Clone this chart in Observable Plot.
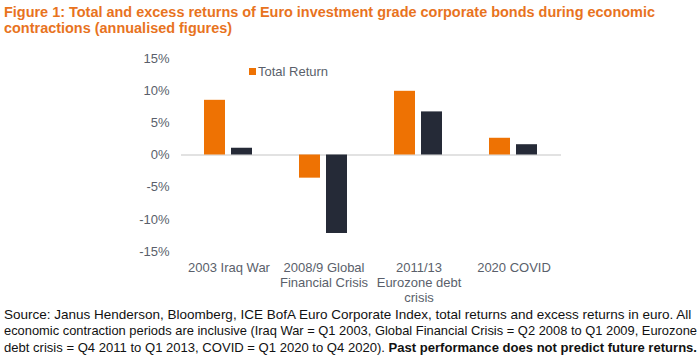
<!DOCTYPE html>
<html>
<head>
<meta charset="utf-8">
<script src="https://cdn.jsdelivr.net/npm/d3@7"></script>
<script src="https://cdn.jsdelivr.net/npm/@observablehq/plot@0.6"></script>
<style>
  body { margin: 0; background: #fff; }
  #wrap { position: relative; width: 700px; height: 361px; overflow: hidden; background: #fff; }
  #title { position: absolute; left: 4px; top: 4px; font: bold 14.5px "Liberation Sans", Arial, sans-serif; color: #E8731E; line-height: 16px; }
  #chart { position: absolute; left: 0; top: 0; }
  #legend { position: absolute; left: 249px; top: 64px; font: 13px "Liberation Sans", Arial, sans-serif; color: #5a5f6b; display: flex; align-items: center; }
  #legend .sw { width: 7px; height: 7px; margin-right: 2px; }
  #caption { position: absolute; left: 4px; top: 307px; font: 13.5px "Liberation Sans", Arial, sans-serif; color: #111; line-height: 16.3px; }
  .ln { display: block; white-space: nowrap; }
  .ln span { display: inline-block; transform-origin: 0 50%; }
</style>
</head>
<body>
<div id="wrap">
  <div id="title">
    <div class="ln"><span data-w="651">Figure 1: Total and excess returns of Euro investment grade corporate bonds during economic</span></div>
    <div class="ln"><span data-ref="0">contractions (annualised figures)</span></div>
  </div>
  <div id="chart"></div>
  <div id="legend"></div>
  <div id="caption">
    <div class="ln"><span data-w="693">Source: Janus Henderson, Bloomberg, ICE BofA Euro Corporate Index, total returns and excess returns in euro. All</span></div>
    <div class="ln"><span data-w="693">economic contraction periods are inclusive (Iraq War = Q1 2003, Global Financial Crisis = Q2 2008 to Q1 2009, Eurozone</span></div>
    <div class="ln"><span data-w="693">debt crisis = Q4 2011 to Q1 2013, COVID = Q1 2020 to Q4 2020). <b>Past performance does not predict future returns.</b></span></div>
  </div>
</div>
<script>
const categories = ["2003 Iraq War", "2008/9 Global Financial Crisis", "2011/13 Eurozone debt crisis", "2020 COVID"];
const categoryLabels = ["2003 Iraq War", "2008/9 Global\nFinancial Crisis", "2011/13\nEurozone debt\ncrisis", "2020 COVID"];
const series = ["Total Return", "Excess Return"];
const totalReturn = [8.5, -3.6, 9.9, 2.6];
const excessReturn = [1.05, -12.2, 6.7, 1.6];
const yTicks = [-15, -10, -5, 0, 5, 10, 15];
const colors = ["#EE7203", "#252A37"];
const legendShown = ["Total Return"];

const data = categories.flatMap((c, i) => [
  {cat: c, series: series[0], value: totalReturn[i]},
  {cat: c, series: series[1], value: excessReturn[i]}
]);

const textColor = "#5a5f6b";

const plot = Plot.plot({
  width: 700,
  height: 306,
  marginLeft: 180,
  marginRight: 138,
  marginTop: 58,
  marginBottom: 55,
  style: {fontFamily: "'Liberation Sans', Arial, sans-serif", fontSize: "13px", color: textColor, background: "transparent", overflow: "visible"},
  fx: {domain: categories, padding: 0, label: null},
  x: {domain: series, axis: null, paddingInner: 0.214, paddingOuter: 0.808},
  y: {domain: [-15, 15], label: null},
  color: {domain: series, range: colors},
  marks: [
    Plot.ruleY([0], {stroke: "#d9d9d9", strokeWidth: 1.3}),
    Plot.barY(data, {fx: "cat", x: "series", y: "value", fill: "series"}),
    Plot.axisY(yTicks, {tickSize: 0, tickPadding: 12, tickFormat: d => d + "%", fill: textColor, label: null, fontSize: 13}),
    Plot.axisFx({anchor: "bottom", tickSize: 0, tickPadding: 10, label: null, fill: textColor, fontSize: 13, lineHeight: 1.14,
      tickFormat: d => categoryLabels[categories.indexOf(d)]})
  ]
});
document.getElementById("chart").appendChild(plot);

const legend = document.getElementById("legend");
legendShown.forEach(s => {
  const sw = document.createElement("span");
  sw.className = "sw";
  sw.style.background = colors[series.indexOf(s)];
  const t = document.createElement("span");
  t.textContent = s;
  legend.appendChild(sw);
  legend.appendChild(t);
});

// Condense text lines horizontally to match the narrow typeface of the original
let lastScale = 1;
document.querySelectorAll(".ln span").forEach(sp => {
  const w = sp.getBoundingClientRect().width;
  let s;
  if (sp.dataset.w) { s = Math.min(1, +sp.dataset.w / w); lastScale = s; }
  else s = lastScale;
  sp.style.transform = `scaleX(${s})`;
});
</script>
</body>
</html>
